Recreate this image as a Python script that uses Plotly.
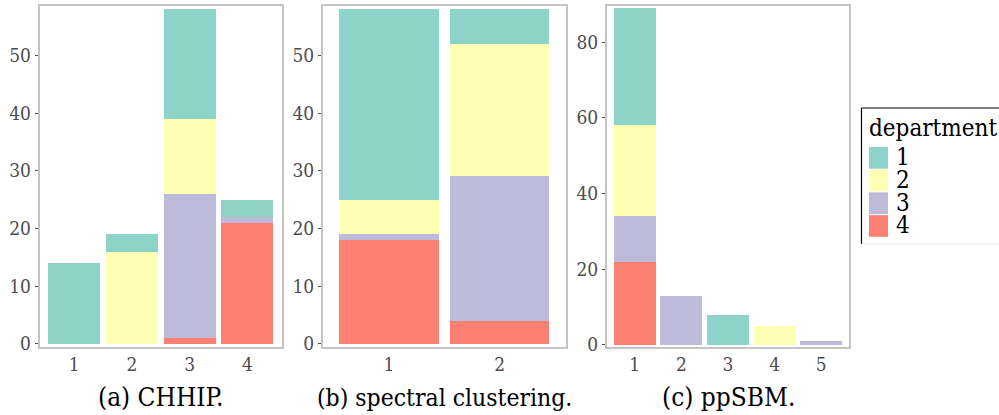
import plotly.graph_objects as go

# Cluster membership counts broken down by department
departments = ["1", "2", "3", "4"]
dept_colors = ["#8DD3C7", "#FFFFB3", "#BEBADA", "#FB8072"]

chhip_clusters = ["1", "2", "3", "4"]
chhip_counts = {
    "1": [14, 3, 19, 3],
    "2": [0, 16, 13, 0],
    "3": [0, 0, 25, 1],
    "4": [0, 0, 1, 21],
}

spectral_clusters = ["1", "2"]
spectral_counts = {
    "1": [33, 6],
    "2": [6, 23],
    "3": [1, 25],
    "4": [18, 4],
}

ppsbm_clusters = ["1", "2", "3", "4", "5"]
ppsbm_counts = {
    "1": [31, 0, 8, 0, 0],
    "2": [24, 0, 0, 5, 0],
    "3": [12, 13, 0, 0, 1],
    "4": [22, 0, 0, 0, 0],
}

captions = ["(a) CHHIP.", "(b) spectral clustering.", "(c) ppSBM."]
y_ranges = [[-0.5, 58.6], [-0.5, 58.6], [-0.5, 89.6]]
y_ticks = [[0, 10, 20, 30, 40, 50], [0, 10, 20, 30, 40, 50], [0, 20, 40, 60, 80]]

W, H = 999, 415
panel_px = [(39.5, 282.0), (322.7, 566.0), (606.7, 849.3)]
y_top_px, y_bot_px = 5.7, 346.7

SERIF = "DejaVu Serif Condensed, DejaVu Serif"
cap_sizes = [26, 24.5, 26]

fig = go.Figure()

panels = [
    (chhip_clusters, chhip_counts),
    (spectral_clusters, spectral_counts),
    (ppsbm_clusters, ppsbm_counts),
]

for i, (clusters, counts) in enumerate(panels):
    xref = "x" if i == 0 else f"x{i + 1}"
    yref = "y" if i == 0 else f"y{i + 1}"
    xs = [int(c) for c in clusters]
    # stack bottom-up: department 4 first, department 1 on top
    for d in reversed(range(len(departments))):
        dep = departments[d]
        fig.add_trace(go.Bar(
            x=xs, y=counts[dep], name=dep,
            marker=dict(color=dept_colors[d], line=dict(width=0)),
            width=0.9, xaxis=xref, yaxis=yref, showlegend=False,
            hovertemplate="cluster %{x}<br>count %{y}<extra>department " + dep + "</extra>",
        ))

layout = dict(
    width=W, height=H, autosize=False,
    margin=dict(l=0, r=0, t=0, b=0, pad=0),
    paper_bgcolor="white", plot_bgcolor="white",
    barmode="stack", bargap=0.1,
    font=dict(family=SERIF, color="#4d4d4d", size=19),
)

for i, (clusters, _) in enumerate(panels):
    x0, x1 = panel_px[i]
    suffix = "" if i == 0 else str(i + 1)
    layout["xaxis" + suffix] = dict(
        domain=[x0 / W, x1 / W],
        range=[0.4, len(clusters) + 0.6],
        tickvals=[int(c) for c in clusters], ticktext=clusters,
        showgrid=False, zeroline=False, ticks="", automargin=False,
        showline=True, linecolor="#c4c4c4", linewidth=1.5, mirror=True,
        tickfont=dict(family=SERIF, size=19, color="#4d4d4d"),
        anchor="y" + suffix, fixedrange=True,
    )
    layout["yaxis" + suffix] = dict(
        domain=[1 - y_bot_px / H, 1 - y_top_px / H],
        range=y_ranges[i], tickvals=y_ticks[i],
        showgrid=False, zeroline=False, automargin=False,
        ticks="outside", ticklen=3, tickwidth=1, tickcolor="#4d4d4d",
        showline=True, linecolor="#c4c4c4", linewidth=1.5, mirror=True,
        tickfont=dict(family=SERIF, size=19, color="#4d4d4d"),
        anchor="x" + suffix, fixedrange=True,
    )

fig.update_layout(**layout)

# Panel captions
for i, cap in enumerate(captions):
    x0, x1 = panel_px[i]
    fig.add_annotation(
        text=cap, xref="paper", yref="paper",
        x=(x0 + x1) / 2 / W, y=1 - 397 / H,
        xanchor="center", yanchor="middle", showarrow=False,
        font=dict(family=SERIF, size=cap_sizes[i], color="black"),
    )

# Department legend box
lx, ly_top, ly_bot = 861.5, 108.0, 244.0


def px(x):
    return x / W


def py(y):
    return 1 - y / H


fig.add_shape(type="line", xref="paper", yref="paper",
              x0=px(lx), x1=1.0, y0=py(ly_top), y1=py(ly_top),
              line=dict(color="black", width=1.2))
fig.add_shape(type="line", xref="paper", yref="paper",
              x0=px(lx), x1=px(lx), y0=py(ly_top), y1=py(ly_bot),
              line=dict(color="black", width=1.2))
fig.add_shape(type="line", xref="paper", yref="paper",
              x0=px(lx), x1=1.0, y0=py(ly_bot), y1=py(ly_bot),
              line=dict(color="#e6e6e6", width=1))

fig.add_annotation(
    text="department", xref="paper", yref="paper",
    x=px(867), y=py(128), xanchor="left", yanchor="middle", showarrow=False,
    font=dict(family=SERIF, size=24, color="black"),
)

item_h = 22.7
first_top = 146.5
for k, dep in enumerate(departments):
    top = first_top + k * item_h
    fig.add_shape(type="rect", xref="paper", yref="paper",
                  x0=px(869), x1=px(888), y0=py(top + item_h - 0.5), y1=py(top + 0.5),
                  fillcolor=dept_colors[k], line=dict(width=0))
    fig.add_annotation(
        text=dep, xref="paper", yref="paper",
        x=px(894), y=py(top + item_h / 2), xanchor="left", yanchor="middle",
        showarrow=False, height=item_h, valign="middle",
        font=dict(family=SERIF, size=24, color="black"),
    )

fig.write_html("out.html", config={"displayModeBar": False})
